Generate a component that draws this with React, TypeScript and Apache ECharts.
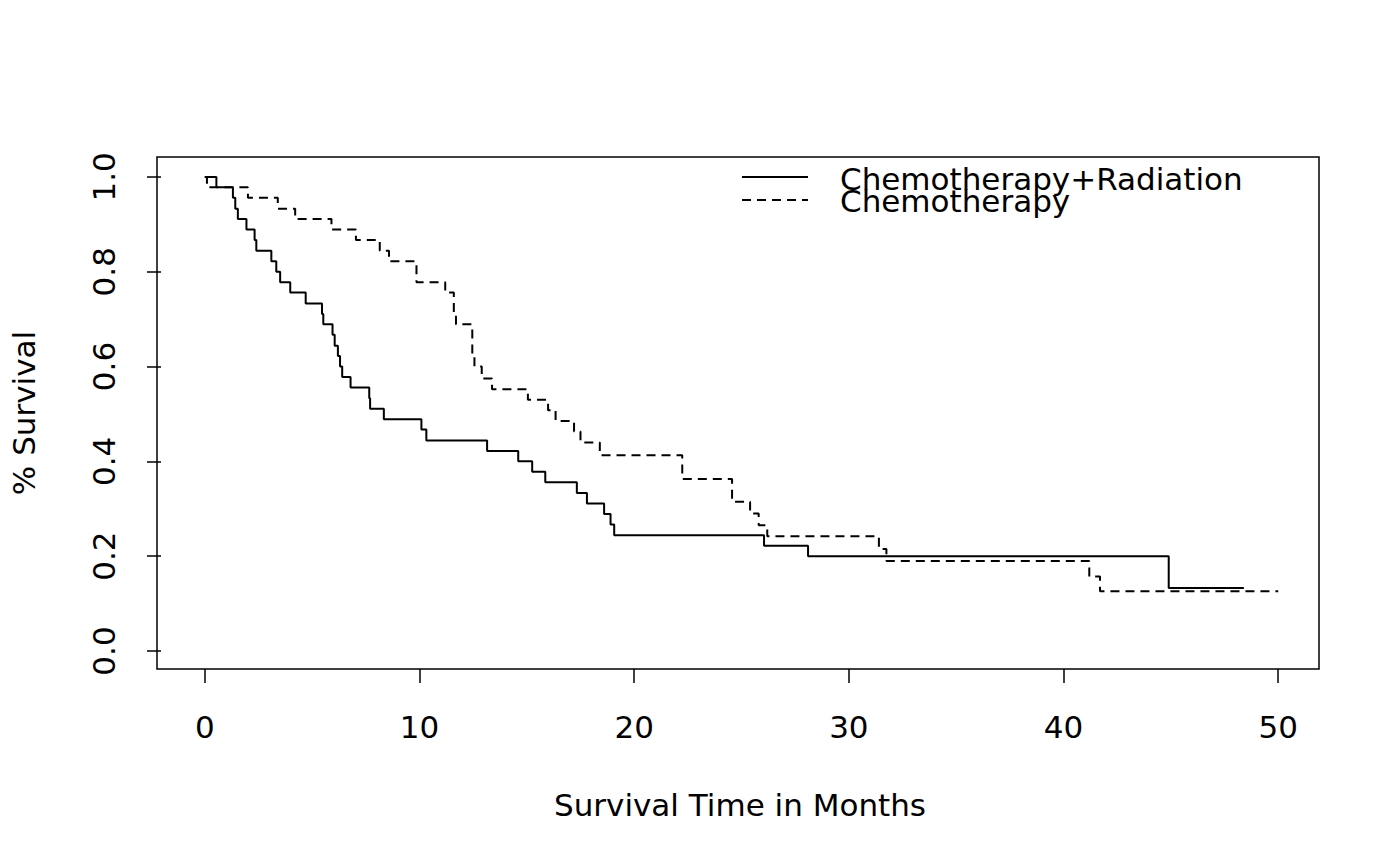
import React, { useEffect, useRef } from "react";
import * as echarts from "echarts";

const crTimes = [0, 0.54, 1.31, 1.42, 1.54, 1.94, 2.32, 2.4, 3.1, 3.33, 3.51, 3.98, 4.7, 5.46, 5.52, 5.95, 6.05, 6.2, 6.3, 6.4, 6.79, 7.66, 7.7, 8.34, 10.09, 10.32, 13.15, 14.6, 15.25, 15.86, 17.33, 17.8, 18.6, 18.9, 19.07, 26.05, 28.1, 44.9, 48.4];
const crSurv = [1.0, 0.978, 0.956, 0.933, 0.911, 0.889, 0.867, 0.844, 0.822, 0.8, 0.778, 0.756, 0.733, 0.711, 0.689, 0.667, 0.644, 0.622, 0.6, 0.578, 0.556, 0.533, 0.511, 0.489, 0.467, 0.444, 0.422, 0.4, 0.378, 0.356, 0.333, 0.311, 0.289, 0.267, 0.244, 0.222, 0.2, 0.133, 0.133];

const cTimes = [0, 0.1, 2.01, 3.4, 4.21, 5.9, 7.04, 8.15, 8.58, 9.86, 11.2, 11.6, 11.7, 12.46, 12.56, 12.9, 13.38, 15.05, 15.99, 16.34, 17.2, 17.5, 18.4, 22.24, 24.56, 25.4, 25.8, 26.2, 31.4, 31.75, 41.2, 41.7, 50];
const cSurv = [1.0, 0.978, 0.956, 0.933, 0.911, 0.889, 0.867, 0.844, 0.822, 0.778, 0.756, 0.711, 0.689, 0.622, 0.6, 0.575, 0.552, 0.53, 0.508, 0.485, 0.463, 0.44, 0.413, 0.363, 0.315, 0.29, 0.265, 0.242, 0.215, 0.19, 0.157, 0.126, 0.126];

const xTicks = [0, 10, 20, 30, 40, 50];
const yTicks = [0, 0.2, 0.4, 0.6, 0.8, 1.0];
const seriesNames = ["Chemotherapy+Radiation", "Chemotherapy"];

const FONT = "DejaVu Sans";
const FS = 31;

export default function App() {
  const ref = useRef<HTMLDivElement>(null);
  useEffect(() => {
    const chart = echarts.init(ref.current!, null, { renderer: "svg" });
    const lineStyleSolid = { color: "#000", width: 2, type: "solid" as const };
    const lineStyleDash = { color: "#000", width: 2, type: [9, 6] as any };
    chart.setOption({
      animation: false,
      backgroundColor: "#fff",
      grid: { left: 157, right: 81, top: 157, bottom: 197 },
      xAxis: {
        type: "value",
        min: -2.04,
        max: 51.9,
        splitLine: { show: false },
        axisLine: { show: false, onZero: false },
        axisTick: { show: true, length: 14, inside: false, customValues: xTicks, lineStyle: { color: "#000", width: 1.5 } },
        axisLabel: { customValues: xTicks, fontFamily: FONT, fontSize: FS, color: "#000", margin: 42 },
        name: "Survival Time in Months",
        nameLocation: "middle",
        nameGap: 120,
        nameTextStyle: { fontFamily: FONT, fontSize: FS, color: "#000" },
      },
      yAxis: {
        type: "value",
        min: -0.038,
        max: 1.042,
        splitLine: { show: false },
        axisLine: { show: false, onZero: false },
        axisTick: { show: true, length: 14, customValues: yTicks, lineStyle: { color: "#000", width: 1.5 } },
        axisLabel: {
          customValues: yTicks,
          fontFamily: FONT,
          fontSize: FS,
          color: "#000",
          rotate: 90,
          margin: 42,
          formatter: (v: number) => v.toFixed(1),
        },
        name: "% Survival",
        nameLocation: "middle",
        nameGap: 122,
        nameTextStyle: { fontFamily: FONT, fontSize: FS, color: "#000" },
      },
      series: [
        {
          name: seriesNames[0],
          type: "line",
          step: "end",
          symbol: "none",
          data: crTimes.map((t, i) => [t, crSurv[i]]),
          lineStyle: lineStyleSolid,
        },
        {
          name: seriesNames[1],
          type: "line",
          step: "end",
          symbol: "none",
          data: cTimes.map((t, i) => [t, cSurv[i]]),
          lineStyle: lineStyleDash,
        },
      ],
      graphic: [
        { type: "rect", shape: { x: 157, y: 157, width: 1162, height: 512 }, style: { fill: "none", stroke: "#000", lineWidth: 1.5 }, silent: true },
        { type: "line", shape: { x1: 742, y1: 177, x2: 808, y2: 177 }, style: { stroke: "#000", lineWidth: 2 } },
        { type: "line", shape: { x1: 742, y1: 200, x2: 808, y2: 200 }, style: { stroke: "#000", lineWidth: 2, lineDash: [9, 6] } },
        { type: "text", x: 840, y: 179, style: { text: seriesNames[0], font: `${FS}px '${FONT}'`, fill: "#000", textVerticalAlign: "middle" } },
        { type: "text", x: 840, y: 201, style: { text: seriesNames[1], font: `${FS}px '${FONT}'`, fill: "#000", textVerticalAlign: "middle" } },
      ],
    });
    return () => chart.dispose();
  }, []);
  return <div ref={ref} style={{ width: 1400, height: 866, margin: -8 }} />;
}
